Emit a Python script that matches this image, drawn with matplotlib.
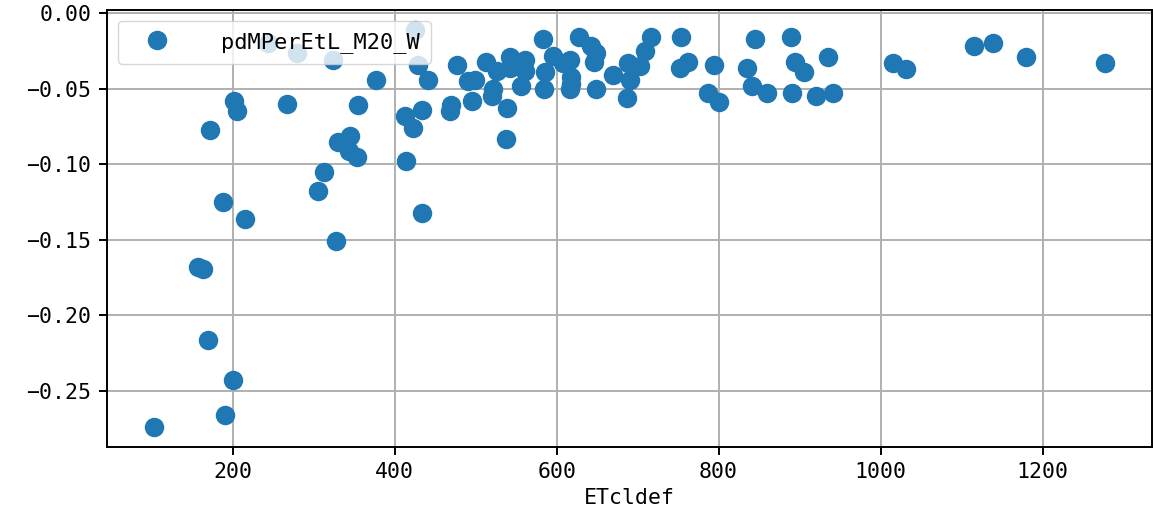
import numpy as np
import matplotlib
matplotlib.use("Agg")
import matplotlib.pyplot as plt

# values
etcldef = [103, 157, 163, 170, 172, 188, 190, 200, 201, 205,
           215, 244, 267, 279, 305, 313, 324, 327, 330, 343,
           345, 353, 355, 377, 413, 414, 423, 425, 429, 434,
           434, 441, 468, 470, 477, 491, 496, 499, 513, 520,
           522, 526, 538, 539, 542, 542, 556, 561, 561, 583,
           584, 586, 596, 608, 617, 618, 618, 617, 627, 643,
           646, 649, 649, 670, 688, 687, 690, 703, 709, 716,
           752, 754, 762, 787, 794, 800, 835, 841, 845, 860,
           890, 891, 894, 906, 920, 935, 941, 1015, 1032, 1115,
           1139, 1179, 1277]
pdmperetl = [-0.274, -0.168, -0.169, -0.216, -0.077, -0.125, -0.266, -0.243, -0.058, -0.065,
             -0.136, -0.020, -0.060, -0.026, -0.118, -0.105, -0.031, -0.151, -0.085, -0.091,
             -0.081, -0.095, -0.061, -0.044, -0.068, -0.098, -0.076, -0.011, -0.034, -0.064,
             -0.132, -0.044, -0.065, -0.061, -0.034, -0.045, -0.058, -0.044, -0.032, -0.055,
             -0.050, -0.038, -0.083, -0.063, -0.029, -0.036, -0.048, -0.031, -0.038, -0.017,
             -0.050, -0.039, -0.028, -0.033, -0.031, -0.042, -0.047, -0.050, -0.016, -0.022,
             -0.032, -0.026, -0.050, -0.041, -0.033, -0.056, -0.044, -0.035, -0.025, -0.016,
             -0.036, -0.016, -0.032, -0.053, -0.034, -0.059, -0.036, -0.048, -0.017, -0.053,
             -0.016, -0.053, -0.032, -0.039, -0.055, -0.029, -0.053, -0.033, -0.037, -0.022,
             -0.020, -0.029, -0.033]
series_name = "pdMPerEtL_M20_W"
x_label = "ETcldef"

plt.rcParams['font.family'] = ['DejaVu Sans Mono']
plt.rcParams['font.size'] = 15.5

fig = plt.figure(figsize=(11.53, 5.2), dpi=100)
# right spine sits on the picture edge, as in the reference
ax = fig.add_axes([0.0925, 0.1404, 0.907, 0.8404])

ax.plot(etcldef, pdmperetl, 'o', color='#1f77b4', markersize=13, label=series_name)

ax.grid(True, color='#b0b0b0', linewidth=1.4)
ax.set_axisbelow(True)
for s in ax.spines.values():
    s.set_linewidth(1.4)
ax.tick_params(width=1.4, length=6, pad=5, labelsize=15.5)
ax.set_xlabel(x_label, fontsize=15.5)

ax.legend(loc='upper left', fontsize=15.8, handlelength=2.55,
          handletextpad=1.66, borderpad=0.5)

fig.savefig("out.png", dpi=100)
